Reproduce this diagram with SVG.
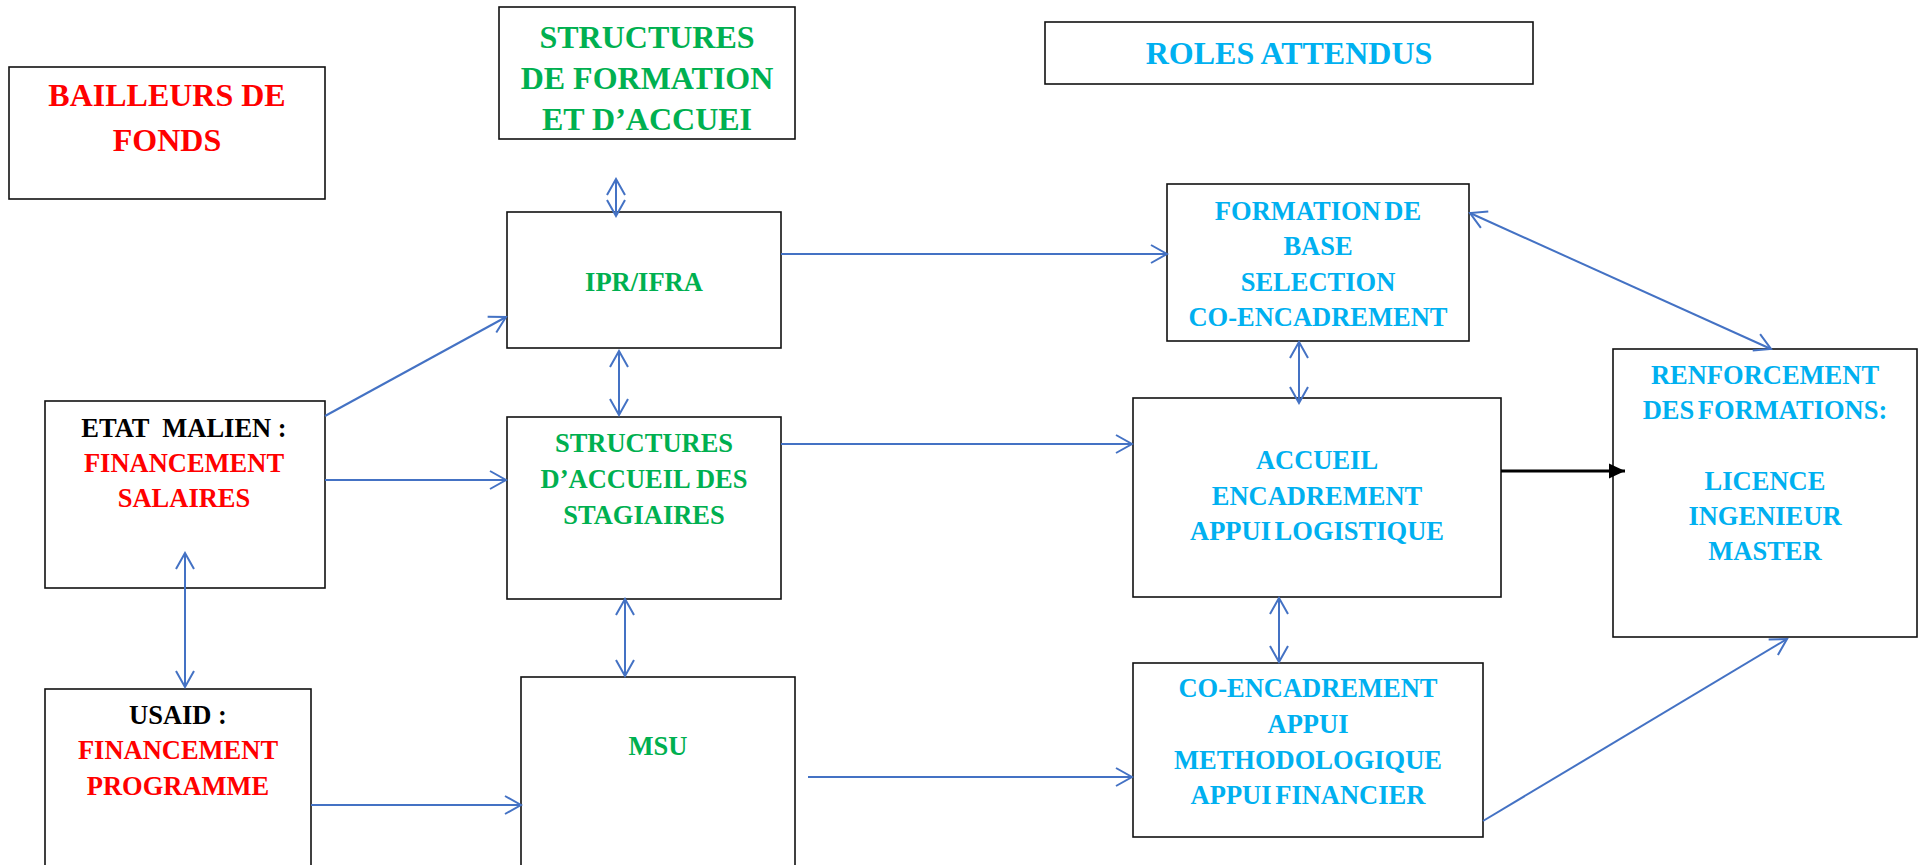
<svg xmlns="http://www.w3.org/2000/svg" width="1919" height="865" viewBox="0 0 1919 865">
<defs>
<style>
.box{fill:#ffffff;stroke:#111111;stroke-width:1.6}
text{font-family:"Liberation Serif","Times New Roman",serif;font-weight:bold;text-anchor:middle;white-space:pre}
.big{font-size:32px}
.sm{font-size:26.5px}
.red{fill:#FF0000}
.grn{fill:#00B050}
.cyn{fill:#00B0F0}
.sm.cyn{word-spacing:-3px}
.blk{fill:#000000}
.con{fill:none;stroke:#4472C4;stroke-width:2}
.conb{fill:none;stroke:#000000;stroke-width:3}
</style>
<marker id="open" viewBox="-18 -11 20 22" refX="0" refY="0" markerWidth="20" markerHeight="22" markerUnits="userSpaceOnUse" orient="auto-start-reverse">
<path d="M-16,-9 L0,0 L-16,9" fill="none" stroke="#4472C4" stroke-width="2"/>
</marker>
<marker id="solid" viewBox="-17 -9 18 18" refX="0" refY="0" markerWidth="18" markerHeight="18" markerUnits="userSpaceOnUse" orient="auto">
<path d="M-16,-7.5 L0,0 L-16,7.5 Z" fill="#000000"/>
</marker>
</defs>
<rect width="1919" height="865" fill="#ffffff"/>
<g id="bailleurs">
<rect class="box" x="9" y="67" width="316" height="132"/>
<text class="big red" x="167" y="106">BAILLEURS DE</text>
<text class="big red" x="167" y="151">FONDS</text>
</g>
<g id="structures-formation">
<rect class="box" x="499" y="7" width="296" height="132"/>
<text class="big grn" x="647" y="48">STRUCTURES</text>
<text class="big grn" x="647" y="89">DE FORMATION</text>
<text class="big grn" x="647" y="129.5">ET D’ACCUEI</text>
</g>
<g id="roles">
<rect class="box" x="1045" y="22" width="488" height="62"/>
<text class="big cyn" x="1289" y="63.5">ROLES ATTENDUS</text>
</g>
<g id="ipr-ifra">
<rect class="box" x="507" y="212" width="274" height="136"/>
<text class="sm grn" x="644" y="291">IPR/IFRA</text>
</g>
<g id="etat-malien">
<rect class="box" x="45" y="401" width="280" height="187"/>
<text class="sm blk" x="184" y="437">ETAT  MALIEN :</text>
<text class="sm red" x="184" y="472">FINANCEMENT</text>
<text class="sm red" x="184" y="507">SALAIRES</text>
</g>
<g id="structures-accueil">
<rect class="box" x="507" y="417" width="274" height="182"/>
<text class="sm grn" x="644" y="452">STRUCTURES</text>
<text class="sm grn" x="644" y="487.5">D’ACCUEIL DES</text>
<text class="sm grn" x="644" y="523.5">STAGIAIRES</text>
</g>
<g id="usaid">
<rect class="box" x="45" y="689" width="266" height="200"/>
<text class="sm blk" x="178" y="723.5">USAID :</text>
<text class="sm red" x="178" y="759">FINANCEMENT</text>
<text class="sm red" x="178" y="795">PROGRAMME</text>
</g>
<g id="msu">
<rect class="box" x="521" y="677" width="274" height="210"/>
<text class="sm grn" x="658" y="755">MSU</text>
</g>
<g id="formation-base">
<rect class="box" x="1167" y="184" width="302" height="157"/>
<text class="sm cyn" x="1318" y="219.5">FORMATION DE</text>
<text class="sm cyn" x="1318" y="255">BASE</text>
<text class="sm cyn" x="1318" y="290.5">SELECTION</text>
<text class="sm cyn" x="1318" y="326">CO-ENCADREMENT</text>
</g>
<g id="renforcement">
<rect class="box" x="1613" y="349" width="304" height="288"/>
<text class="sm cyn" x="1765" y="383.5">RENFORCEMENT</text>
<text class="sm cyn" x="1765" y="418.5">DES FORMATIONS:</text>
<text class="sm cyn" x="1765" y="489.5">LICENCE</text>
<text class="sm cyn" x="1765" y="524.5">INGENIEUR</text>
<text class="sm cyn" x="1765" y="560">MASTER</text>
</g>
<g id="accueil">
<rect class="box" x="1133" y="398" width="368" height="199"/>
<text class="sm cyn" x="1317" y="468.5">ACCUEIL</text>
<text class="sm cyn" x="1317" y="504.5">ENCADREMENT</text>
<text class="sm cyn" x="1317" y="539.5">APPUI LOGISTIQUE</text>
</g>
<g id="co-encadrement">
<rect class="box" x="1133" y="663" width="350" height="174"/>
<text class="sm cyn" x="1308" y="697">CO-ENCADREMENT</text>
<text class="sm cyn" x="1308" y="732.5">APPUI</text>
<text class="sm cyn" x="1308" y="768.5">METHODOLOGIQUE</text>
<text class="sm cyn" x="1308" y="804">APPUI FINANCIER</text>
</g>
<g id="connectors">
<path class="con" d="M616 179 L616 216" marker-start="url(#open)" marker-end="url(#open)"/>
<path class="con" d="M619 351 L619 415" marker-start="url(#open)" marker-end="url(#open)"/>
<path class="con" d="M625 599 L625 676" marker-start="url(#open)" marker-end="url(#open)"/>
<path class="con" d="M185 553 L185 687" marker-start="url(#open)" marker-end="url(#open)"/>
<path class="con" d="M325 416 L506 317" marker-end="url(#open)"/>
<path class="con" d="M325 480 L506 480" marker-end="url(#open)"/>
<path class="con" d="M311 805 L521 805" marker-end="url(#open)"/>
<path class="con" d="M781 254 L1167 254" marker-end="url(#open)"/>
<path class="con" d="M781 444 L1132 444" marker-end="url(#open)"/>
<path class="con" d="M808 777 L1132 777" marker-end="url(#open)"/>
<path class="con" d="M1299 342 L1299 403" marker-start="url(#open)" marker-end="url(#open)"/>
<path class="con" d="M1279 598 L1279 662" marker-start="url(#open)" marker-end="url(#open)"/>
<path class="con" d="M1470 213 L1771 349" marker-start="url(#open)" marker-end="url(#open)"/>
<path class="con" d="M1483 821 L1787 639" marker-end="url(#open)"/>
<path class="conb" d="M1501 471 L1625 471" marker-end="url(#solid)"/>
</g>
</svg>
